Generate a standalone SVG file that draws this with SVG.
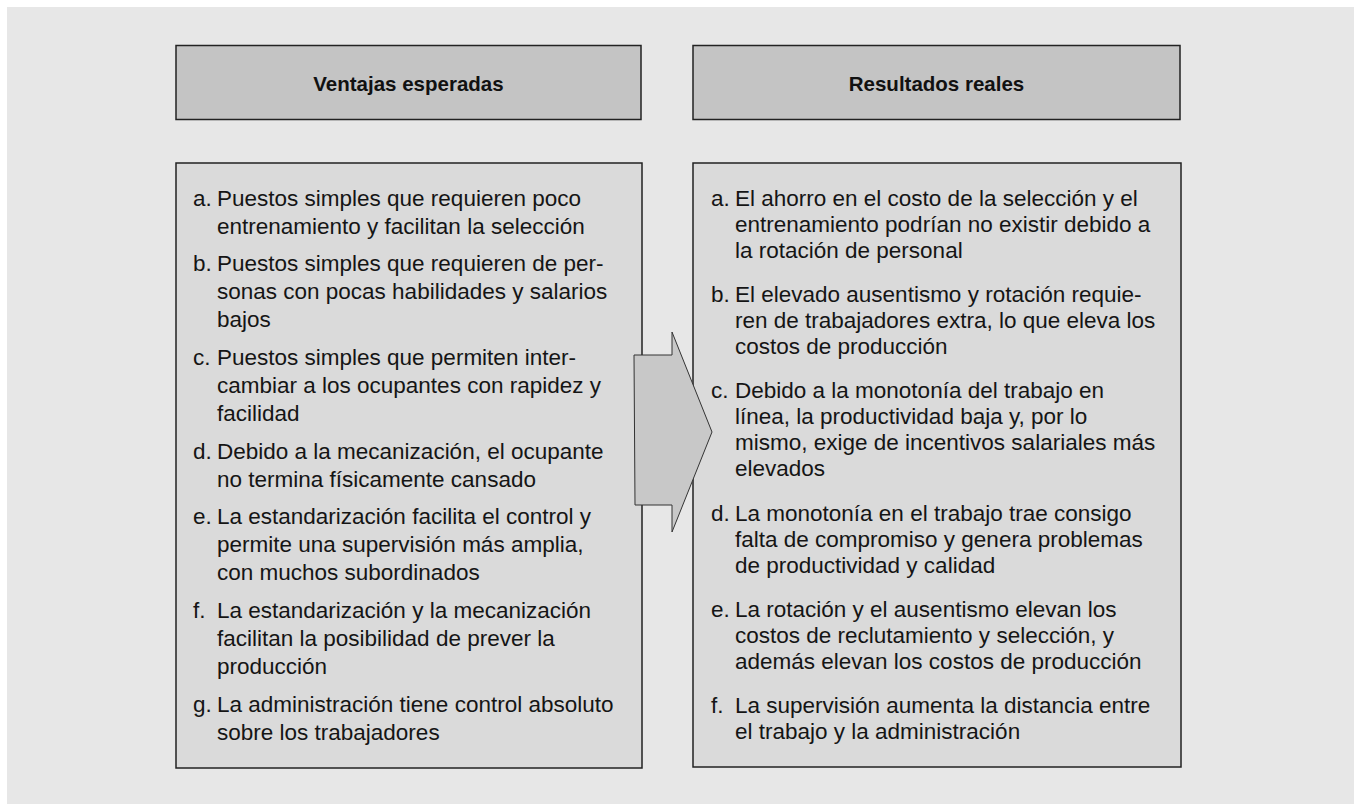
<svg xmlns="http://www.w3.org/2000/svg" width="1354" height="804" viewBox="0 0 1354 804">
<style>
.hdr{fill:#c4c4c4;stroke:#222;stroke-width:1.5}
.body{fill:#dadada;stroke:#222;stroke-width:1.5}
.ht{font-family:"Liberation Sans",Arial,sans-serif;font-weight:bold;font-size:20.5px;fill:#111;text-anchor:middle}
.t{font-family:"Liberation Sans",Arial,sans-serif;font-size:22.5px;fill:#151515}
.arrow{fill:#c8c8c8;stroke:#333;stroke-width:1}
</style>
<rect x="0" y="0" width="1354" height="804" fill="#ffffff"/>
<rect x="7" y="7" width="1347" height="797" fill="#e7e7e7"/>
<g id="header-left">
<rect class="hdr" x="176" y="45.5" width="465" height="74"/>
<text class="ht" x="408.5" y="90.5">Ventajas esperadas</text>
</g>
<g id="header-right">
<rect class="hdr" x="693" y="45.5" width="487" height="74"/>
<text class="ht" x="936.5" y="90.5">Resultados reales</text>
</g>
<g id="box-left">
<rect class="body" x="176" y="163" width="466" height="605"/>
<g class="t">
<text x="193" y="205.5">a.</text>
<text x="217" y="205.5">Puestos simples que requieren poco</text>
<text x="217" y="233.5">entrenamiento y facilitan la selección</text>
<text x="193" y="271.2">b.</text>
<text x="217" y="271.2">Puestos simples que requieren de per-</text>
<text x="217" y="299.2">sonas con pocas habilidades y salarios</text>
<text x="217" y="327.2">bajos</text>
<text x="193" y="364.9">c.</text>
<text x="217" y="364.9">Puestos simples que permiten inter-</text>
<text x="217" y="392.9">cambiar a los ocupantes con rapidez y</text>
<text x="217" y="420.9">facilidad</text>
<text x="193" y="458.6">d.</text>
<text x="217" y="458.6">Debido a la mecanización, el ocupante</text>
<text x="217" y="486.6">no termina físicamente cansado</text>
<text x="193" y="524.3">e.</text>
<text x="217" y="524.3">La estandarización facilita el control y</text>
<text x="217" y="552.3">permite una supervisión más amplia,</text>
<text x="217" y="580.3">con muchos subordinados</text>
<text x="193" y="618">f.</text>
<text x="217" y="618">La estandarización y la mecanización</text>
<text x="217" y="646">facilitan la posibilidad de prever la</text>
<text x="217" y="674">producción</text>
<text x="193" y="711.7">g.</text>
<text x="217" y="711.7">La administración tiene control absoluto</text>
<text x="217" y="739.7">sobre los trabajadores</text>
</g>
</g>
<g id="box-right">
<rect class="body" x="693" y="163" width="488" height="604"/>
<g class="t">
<text x="711" y="206">a.</text>
<text x="735" y="206">El ahorro en el costo de la selección y el</text>
<text x="735" y="232">entrenamiento podrían no existir debido a</text>
<text x="735" y="258">la rotación de personal</text>
<text x="711" y="302.2">b.</text>
<text x="735" y="302.2">El elevado ausentismo y rotación requie-</text>
<text x="735" y="328.2">ren de trabajadores extra, lo que eleva los</text>
<text x="735" y="354.2">costos de producción</text>
<text x="711" y="398.4">c.</text>
<text x="735" y="398.4">Debido a la monotonía del trabajo en</text>
<text x="735" y="424.4">línea, la productividad baja y, por lo</text>
<text x="735" y="450.4">mismo, exige de incentivos salariales más</text>
<text x="735" y="476.4">elevados</text>
<text x="711" y="520.6">d.</text>
<text x="735" y="520.6">La monotonía en el trabajo trae consigo</text>
<text x="735" y="546.6">falta de compromiso y genera problemas</text>
<text x="735" y="572.6">de productividad y calidad</text>
<text x="711" y="616.8">e.</text>
<text x="735" y="616.8">La rotación y el ausentismo elevan los</text>
<text x="735" y="642.8">costos de reclutamiento y selección, y</text>
<text x="735" y="668.8">además elevan los costos de producción</text>
<text x="711" y="713">f.</text>
<text x="735" y="713">La supervisión aumenta la distancia entre</text>
<text x="735" y="739">el trabajo y la administración</text>
</g>
</g>
<g id="connectors">
<polygon class="arrow" points="634,355 672,355 672,332 712,432 672,532 672,505 635,505"/>
</g>
</svg>
